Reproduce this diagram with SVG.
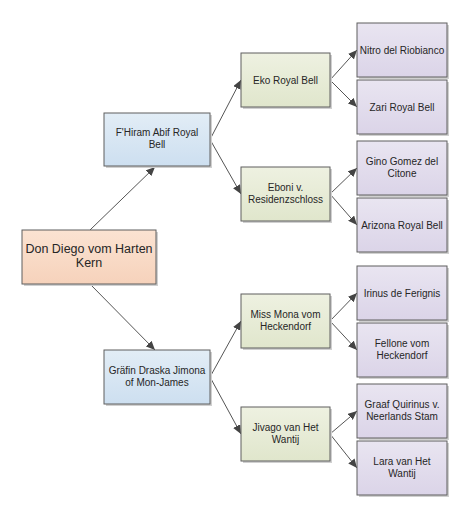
<svg xmlns="http://www.w3.org/2000/svg" width="472" height="520" viewBox="0 0 472 520">
<style>
.box{stroke:#5f5f5f;stroke-width:1}
.sh{fill:#d0d0d0}
.t{font-family:"Liberation Sans",Arial,sans-serif;font-size:10px;fill:#262626;text-anchor:middle}
.tr{font-size:12.5px}
.c{stroke:#555;stroke-width:1;fill:none;marker-end:url(#ah)}
</style>
<defs>
<linearGradient id="gr" x1="0" y1="0" x2="0" y2="1"><stop offset="0" stop-color="#fbe3d2"/><stop offset="1" stop-color="#f6d2bb"/></linearGradient>
<linearGradient id="gb" x1="0" y1="0" x2="0" y2="1"><stop offset="0" stop-color="#e2edf6"/><stop offset="1" stop-color="#cddff0"/></linearGradient>
<linearGradient id="gg" x1="0" y1="0" x2="0" y2="1"><stop offset="0" stop-color="#eef1e1"/><stop offset="1" stop-color="#e0e6cc"/></linearGradient>
<linearGradient id="gp" x1="0" y1="0" x2="0" y2="1"><stop offset="0" stop-color="#e9e5f1"/><stop offset="1" stop-color="#dbd4e8"/></linearGradient>
<marker id="ah" markerUnits="userSpaceOnUse" markerWidth="10" markerHeight="8" refX="9" refY="4" orient="auto"><path d="M0,0 L9,4 L0,8 z" fill="#444"/></marker>
</defs>
<g id="connectors">
<line class="c" x1="90" y1="230" x2="155" y2="167"/>
<line class="c" x1="90" y1="284" x2="155" y2="350"/>
<line class="c" x1="210" y1="139.5" x2="241" y2="80"/>
<line class="c" x1="210" y1="139.5" x2="241" y2="194"/>
<line class="c" x1="210" y1="377" x2="241" y2="321"/>
<line class="c" x1="210" y1="377" x2="241" y2="434"/>
<line class="c" x1="330" y1="80" x2="357" y2="50"/>
<line class="c" x1="330" y1="80" x2="357" y2="107"/>
<line class="c" x1="330" y1="194" x2="357" y2="168"/>
<line class="c" x1="330" y1="194" x2="357" y2="225"/>
<line class="c" x1="330" y1="321" x2="357" y2="293"/>
<line class="c" x1="330" y1="321" x2="357" y2="350"/>
<line class="c" x1="330" y1="434" x2="357" y2="411"/>
<line class="c" x1="330" y1="434" x2="357" y2="468"/>
</g>
<g id="root"><rect class="sh" x="24" y="232" width="134" height="54"/><rect class="box" x="22" y="230" width="134" height="54" fill="url(#gr)"/><text class="t tr" x="89" y="253">Don Diego vom Harten</text><text class="t tr" x="89" y="267">Kern</text></g>
<g id="fhiram"><rect class="sh" x="106" y="115" width="106" height="53"/><rect class="box" x="104" y="113" width="106" height="53" fill="url(#gb)"/><text class="t" x="157" y="136">F'Hiram Abif Royal</text><text class="t" x="157" y="148">Bell</text></g>
<g id="grafin"><rect class="sh" x="106" y="352" width="106" height="54"/><rect class="box" x="104" y="350" width="106" height="54" fill="url(#gb)"/><text class="t" x="157" y="374">Gräfin Draska Jimona</text><text class="t" x="157" y="386">of Mon-James</text></g>
<g id="eko"><rect class="sh" x="243" y="55" width="89" height="54"/><rect class="box" x="241" y="53" width="89" height="54" fill="url(#gg)"/><text class="t" x="285.5" y="83.5">Eko Royal Bell</text></g>
<g id="eboni"><rect class="sh" x="243" y="169" width="89" height="54"/><rect class="box" x="241" y="167" width="89" height="54" fill="url(#gg)"/><text class="t" x="285.5" y="191">Eboni v.</text><text class="t" x="285.5" y="203">Residenzschloss</text></g>
<g id="mona"><rect class="sh" x="243" y="296" width="89" height="54"/><rect class="box" x="241" y="294" width="89" height="54" fill="url(#gg)"/><text class="t" x="285.5" y="318">Miss Mona vom</text><text class="t" x="285.5" y="330">Heckendorf</text></g>
<g id="jivago"><rect class="sh" x="243" y="409" width="89" height="54"/><rect class="box" x="241" y="407" width="89" height="54" fill="url(#gg)"/><text class="t" x="285.5" y="431">Jivago van Het</text><text class="t" x="285.5" y="443">Wantij</text></g>
<g id="nitro"><rect class="sh" x="359" y="25" width="90" height="54"/><rect class="box" x="357" y="23" width="90" height="54" fill="url(#gp)"/><text class="t" x="402" y="53.5">Nitro del Riobianco</text></g>
<g id="zari"><rect class="sh" x="359" y="82" width="90" height="54"/><rect class="box" x="357" y="80" width="90" height="54" fill="url(#gp)"/><text class="t" x="402" y="110.5">Zari Royal Bell</text></g>
<g id="gino"><rect class="sh" x="359" y="143" width="90" height="54"/><rect class="box" x="357" y="141" width="90" height="54" fill="url(#gp)"/><text class="t" x="402" y="165">Gino Gomez del</text><text class="t" x="402" y="177">Citone</text></g>
<g id="arizona"><rect class="sh" x="359" y="200" width="90" height="54"/><rect class="box" x="357" y="198" width="90" height="54" fill="url(#gp)"/><text class="t" x="402" y="228.5">Arizona Royal Bell</text></g>
<g id="irinus"><rect class="sh" x="359" y="268" width="90" height="54"/><rect class="box" x="357" y="266" width="90" height="54" fill="url(#gp)"/><text class="t" x="402" y="296.5">Irinus de Ferignis</text></g>
<g id="fellone"><rect class="sh" x="359" y="325" width="90" height="54"/><rect class="box" x="357" y="323" width="90" height="54" fill="url(#gp)"/><text class="t" x="402" y="347">Fellone vom</text><text class="t" x="402" y="359">Heckendorf</text></g>
<g id="graaf"><rect class="sh" x="359" y="386" width="90" height="54"/><rect class="box" x="357" y="384" width="90" height="54" fill="url(#gp)"/><text class="t" x="402" y="408">Graaf Quirinus v.</text><text class="t" x="402" y="420">Neerlands Stam</text></g>
<g id="lara"><rect class="sh" x="359" y="443" width="90" height="54"/><rect class="box" x="357" y="441" width="90" height="54" fill="url(#gp)"/><text class="t" x="402" y="465">Lara van Het</text><text class="t" x="402" y="477">Wantij</text></g>
</svg>
